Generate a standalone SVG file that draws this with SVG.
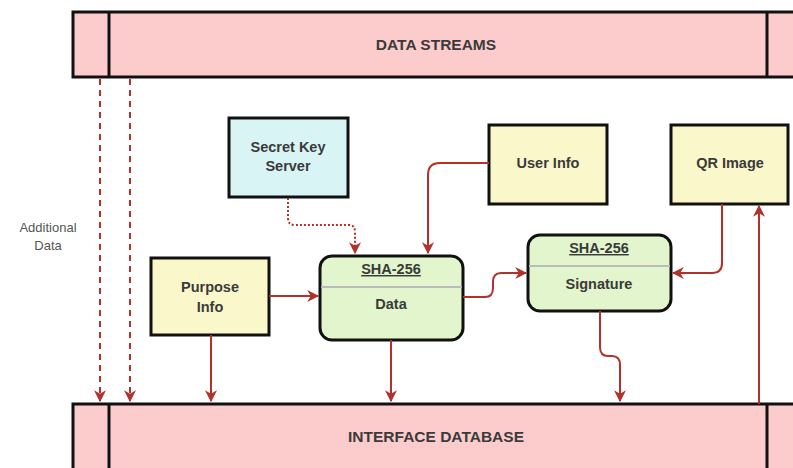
<svg xmlns="http://www.w3.org/2000/svg" width="793" height="468" viewBox="0 0 793 468">
<defs>
<style>
.bar{fill:#fccbcc;stroke:#111;stroke-width:3}
.box{stroke:#111;stroke-width:3}
.y{fill:#faf8cb}
.c{fill:#d9f4f5}
.g{fill:#e2f5cc}
.t{font-family:"Liberation Sans",Arial,sans-serif;font-size:14.5px;font-weight:bold;fill:#3a3a3a;text-anchor:middle}
.h{font-size:15.5px}
.lbl{font-family:"Liberation Sans",Arial,sans-serif;font-size:13px;fill:#555;text-anchor:middle}
.e{fill:none;stroke:#b3302b;stroke-width:2}
.d{stroke-dasharray:6 5}
.dot{stroke-dasharray:2 2}
</style>
<marker id="a" viewBox="0 0 10 10" refX="9" refY="5" markerWidth="6" markerHeight="6" orient="auto" markerUnits="strokeWidth">
<path d="M0,0 L10,5 L0,10 L3,5 Z" fill="#b3302b"/>
</marker>
</defs>
<g id="data-streams">
<rect class="bar" x="73" y="12" width="740" height="65"/>
<line x1="109" y1="12" x2="109" y2="77" stroke="#111" stroke-width="3"/>
<line x1="767" y1="12" x2="767" y2="77" stroke="#111" stroke-width="3"/>
<text class="t h" x="436" y="50">DATA STREAMS</text>
</g>
<g id="interface-database">
<rect class="bar" x="73" y="404" width="740" height="80"/>
<line x1="109" y1="404" x2="109" y2="468" stroke="#111" stroke-width="3"/>
<line x1="767" y1="404" x2="767" y2="468" stroke="#111" stroke-width="3"/>
<text class="t h" x="436" y="442">INTERFACE DATABASE</text>
</g>
<g id="secret-key-server">
<rect class="box c" x="229" y="118" width="119" height="79"/>
<text class="t" x="288" y="152">Secret Key</text>
<text class="t" x="288" y="171">Server</text>
</g>
<g id="user-info">
<rect class="box y" x="489" y="125" width="118" height="79"/>
<text class="t" x="548" y="168">User Info</text>
</g>
<g id="qr-image">
<rect class="box y" x="671" y="125" width="117" height="79"/>
<text class="t" x="730" y="168">QR Image</text>
</g>
<g id="purpose-info">
<rect class="box y" x="151" y="258" width="118" height="77"/>
<text class="t" x="210" y="292">Purpose</text>
<text class="t" x="210" y="312">Info</text>
</g>
<g id="sha-data">
<rect class="box g" x="320" y="256" width="143" height="84" rx="12"/>
<line x1="321" y1="287" x2="462" y2="287" stroke="#bbb" stroke-width="2"/>
<text class="t" x="391" y="274" text-decoration="underline">SHA-256</text>
<text class="t" x="391" y="309">Data</text>
</g>
<g id="sha-signature">
<rect class="box g" x="528" y="235" width="143" height="76" rx="12"/>
<line x1="529" y1="266" x2="670" y2="266" stroke="#bbb" stroke-width="2"/>
<text class="t" x="599" y="253" text-decoration="underline">SHA-256</text>
<text class="t" x="599" y="289">Signature</text>
</g>
<g id="label-additional">
<text class="lbl" x="48" y="232">Additional</text>
<text class="lbl" x="48" y="250">Data</text>
</g>
<g id="connectors">
<path class="e d" d="M100,79 V401" marker-end="url(#a)"/>
<path class="e d" d="M130,79 V401" marker-end="url(#a)"/>
<path class="e dot" d="M288,198 V218 Q288,225 295,225 H349 Q355,225 355,232 V253" marker-end="url(#a)"/>
<path class="e" d="M489,163 H440 Q428,163 428,175 V253" marker-end="url(#a)"/>
<path class="e" d="M269,296 H318" marker-end="url(#a)"/>
<path class="e" d="M463,297 H485 Q493,297 493,288 V282 Q493,273 501,273 H526" marker-end="url(#a)"/>
<path class="e" d="M722,204 V263 Q722,273 712,273 H673" marker-end="url(#a)"/>
<path class="e" d="M759,404 V206" marker-end="url(#a)"/>
<path class="e" d="M211,335 V401" marker-end="url(#a)"/>
<path class="e" d="M391,340 V401" marker-end="url(#a)"/>
<path class="e" d="M600,311 V347 Q600,356 608,356 H612 Q620,356 620,365 V401" marker-end="url(#a)"/>
</g>
</svg>
